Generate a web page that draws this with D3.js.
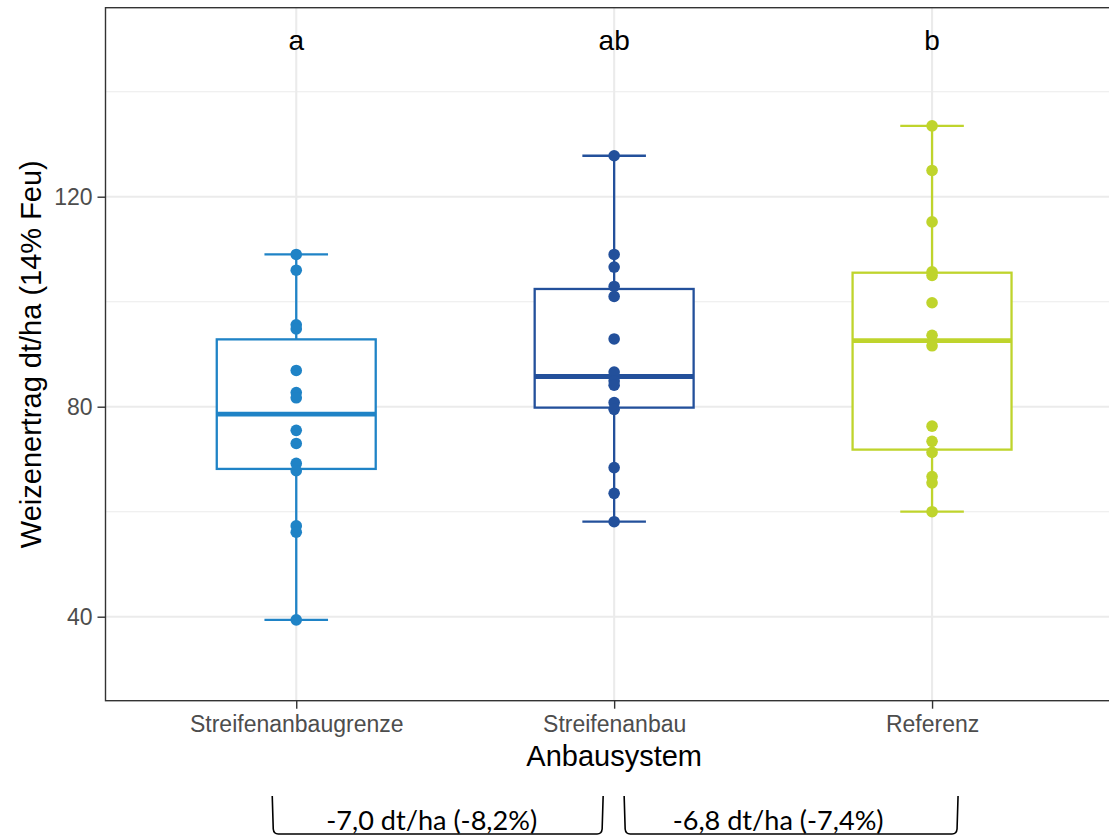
<!DOCTYPE html>
<html>
<head>
<meta charset="utf-8">
<script src="https://cdn.jsdelivr.net/npm/d3@7/dist/d3.min.js"></script>
<style>
  body { margin: 0; background: #fff; }
  svg { display: block; }
</style>
</head>
<body>
<svg id="chart"></svg>
<script>
// data
var categories = ["Streifenanbaugrenze", "Streifenanbau", "Referenz"];
var ertragGrenze = [109.0, 106.0, 95.6, 94.8, 86.9, 82.7, 81.7, 75.5, 73.0, 69.2, 67.8, 57.3, 56.1, 39.4];
var ertragStreifen = [127.8, 109.0, 106.6, 102.9, 101.0, 92.9, 86.6, 84.9, 84.1, 80.8, 79.5, 68.4, 63.5, 58.1];
var ertragReferenz = [133.5, 125.0, 115.2, 105.7, 105.0, 99.8, 93.6, 91.6, 76.3, 73.4, 71.3, 66.7, 65.5, 60.0];
var groupLetters = ["a", "ab", "b"];
var colors = ["#1f83c6", "#23509b", "#bfd42c"];
var majorTicks = [40, 80, 120];
var minorTicks = [60, 100, 140];
var bracketLabels = ["-7,0 dt/ha (-8,2%)", "-6,8 dt/ha (-7,4%)"];

var W = 1109, H = 836;
var pLeft = 105.5, pTop = 7.7, pRight = 1122.8, pBottom = 700.7;
var sansFont = "'Liberation Sans', Arial, sans-serif";

var svg = d3.select("#chart").attr("width", W).attr("height", H);

var x = d3.scalePoint().domain(categories).range([pLeft, pRight]).padding(0.6);
var y = d3.scaleLinear().domain([24, 156]).range([pBottom, pTop]);
var step = x.step();

var groups = [ertragGrenze, ertragStreifen, ertragReferenz].map(function(vals, i) {
  var s = vals.slice().sort(d3.ascending);
  var q1 = d3.quantileSorted(s, 0.25), med = d3.quantileSorted(s, 0.5), q3 = d3.quantileSorted(s, 0.75);
  var iqr = q3 - q1;
  var lo = d3.min(s.filter(function(v) { return v >= q1 - 1.5 * iqr; }));
  var hi = d3.max(s.filter(function(v) { return v <= q3 + 1.5 * iqr; }));
  return { cat: categories[i], vals: vals, q1: q1, med: med, q3: q3, lo: lo, hi: hi, color: colors[i], letter: groupLetters[i] };
});

var panel = svg.append("g");
panel.append("rect").attr("x", pLeft).attr("y", pTop).attr("width", pRight - pLeft).attr("height", pBottom - pTop).attr("fill", "#fff");

// grid
panel.selectAll(".minor").data(minorTicks).enter().append("line")
  .attr("x1", pLeft).attr("x2", pRight).attr("y1", function(d) { return y(d); }).attr("y2", function(d) { return y(d); })
  .attr("stroke", "#ebebeb").attr("stroke-width", 1.1);
panel.selectAll(".major").data(majorTicks).enter().append("line")
  .attr("x1", pLeft).attr("x2", pRight).attr("y1", function(d) { return y(d); }).attr("y2", function(d) { return y(d); })
  .attr("stroke", "#ebebeb").attr("stroke-width", 2.1);
panel.selectAll(".vgrid").data(categories).enter().append("line")
  .attr("x1", function(d) { return x(d); }).attr("x2", function(d) { return x(d); })
  .attr("y1", pTop).attr("y2", pBottom)
  .attr("stroke", "#ebebeb").attr("stroke-width", 2.1);

// boxes
var g = panel.selectAll(".grp").data(groups).enter().append("g");
g.append("line")
  .attr("x1", function(d) { return x(d.cat); }).attr("x2", function(d) { return x(d.cat); })
  .attr("y1", function(d) { return y(d.hi); }).attr("y2", function(d) { return y(d.lo); })
  .attr("stroke", function(d) { return d.color; }).attr("stroke-width", 2.3);
["hi", "lo"].forEach(function(k) {
  g.append("line")
    .attr("x1", function(d) { return x(d.cat) - step * 0.1; }).attr("x2", function(d) { return x(d.cat) + step * 0.1; })
    .attr("y1", function(d) { return y(d[k]); }).attr("y2", function(d) { return y(d[k]); })
    .attr("stroke", function(d) { return d.color; }).attr("stroke-width", 2.3);
});
g.append("rect")
  .attr("x", function(d) { return x(d.cat) - step * 0.25; })
  .attr("width", step * 0.5)
  .attr("y", function(d) { return y(d.q3); })
  .attr("height", function(d) { return y(d.q1) - y(d.q3); })
  .attr("fill", "#fff").attr("stroke", function(d) { return d.color; }).attr("stroke-width", 2.3);
g.append("line")
  .attr("x1", function(d) { return x(d.cat) - step * 0.25; }).attr("x2", function(d) { return x(d.cat) + step * 0.25; })
  .attr("y1", function(d) { return y(d.med); }).attr("y2", function(d) { return y(d.med); })
  .attr("stroke", function(d) { return d.color; }).attr("stroke-width", 4.8);
g.each(function(d) {
  d3.select(this).selectAll("circle").data(d.vals).enter().append("circle")
    .attr("cx", x(d.cat)).attr("cy", function(v) { return y(v); })
    .attr("r", 5.8).attr("fill", d.color);
});

// significance letters
panel.selectAll(".letter").data(groups).enter().append("text")
  .attr("x", function(d) { return x(d.cat); })
  .attr("y", y(150)).attr("dy", "0.38em")
  .attr("text-anchor", "middle")
  .style("font-family", sansFont).style("font-size", "28px")
  .attr("fill", "#000")
  .text(function(d) { return d.letter; });

// border
svg.append("rect").attr("x", pLeft).attr("y", pTop).attr("width", pRight - pLeft).attr("height", pBottom - pTop)
  .attr("fill", "none").attr("stroke", "#333").attr("stroke-width", 1.4);

// y axis
var yAxis = svg.append("g").attr("transform", "translate(" + pLeft + ",0)")
  .call(d3.axisLeft(y).tickValues(majorTicks).tickSize(8).tickPadding(5));
yAxis.select(".domain").remove();
yAxis.selectAll(".tick line").attr("stroke", "#333").attr("stroke-width", 1.4);
yAxis.selectAll(".tick text").attr("fill", "#4d4d4d").attr("dy", "0.36em")
  .style("font-family", sansFont).style("font-size", "23px");

// x axis
var xAxis = svg.append("g").attr("transform", "translate(0," + pBottom + ")")
  .call(d3.axisBottom(x).tickSize(8).tickPadding(6));
xAxis.select(".domain").remove();
xAxis.selectAll(".tick line").attr("stroke", "#333").attr("stroke-width", 1.4);
xAxis.selectAll(".tick text").attr("fill", "#4d4d4d").attr("dy", "0")
  .attr("y", 31.5)
  .style("font-family", sansFont).style("font-size", "23px");

// axis titles
svg.append("text").attr("x", (pLeft + pRight) / 2).attr("y", 766)
  .attr("text-anchor", "middle").attr("fill", "#000")
  .style("font-family", sansFont).style("font-size", "29px")
  .text("Anbausystem");
svg.append("text")
  .attr("transform", "translate(41," + ((pTop + pBottom) / 2) + ") rotate(-90)")
  .attr("text-anchor", "middle").attr("fill", "#000")
  .style("font-family", sansFont).style("font-size", "29px")
  .text("Weizenertrag dt/ha (14% Feu)");

// difference brackets below the axis
var brackets = [
  { x0: x(categories[0]) - 24, x1: x(categories[1]) - 11, shift: -6, label: bracketLabels[0] },
  { x0: x(categories[1]) + 10, x1: x(categories[2]) + 26, shift: -13, label: bracketLabels[1] }
];
var bTop = 796, bBot = 834;
brackets.forEach(function(b) {
  var p = d3.path();
  p.moveTo(b.x0, bTop);
  p.lineTo(b.x0 + 1, bBot - 5);
  p.quadraticCurveTo(b.x0 + 1.5, bBot, b.x0 + 6, bBot);
  p.lineTo(b.x1 - 6, bBot);
  p.quadraticCurveTo(b.x1 - 1.5, bBot, b.x1 - 1, bBot - 5);
  p.lineTo(b.x1, bTop);
  svg.append("path").attr("d", p.toString()).attr("fill", "none")
    .attr("stroke", "#000").attr("stroke-width", 1.6);
  var t = svg.append("text").attr("x", (b.x0 + b.x1) / 2 + b.shift).attr("y", 830)
    .attr("text-anchor", "middle").attr("fill", "#000")
    .style("font-family", "Lato, 'Open Sans', sans-serif").style("font-size", "24px")
    .text(b.label);
  var w = t.node().getComputedTextLength();
  t.style("font-size", Math.min(28, 24 * 211 / w) + "px");
});
</script>
</body>
</html>
